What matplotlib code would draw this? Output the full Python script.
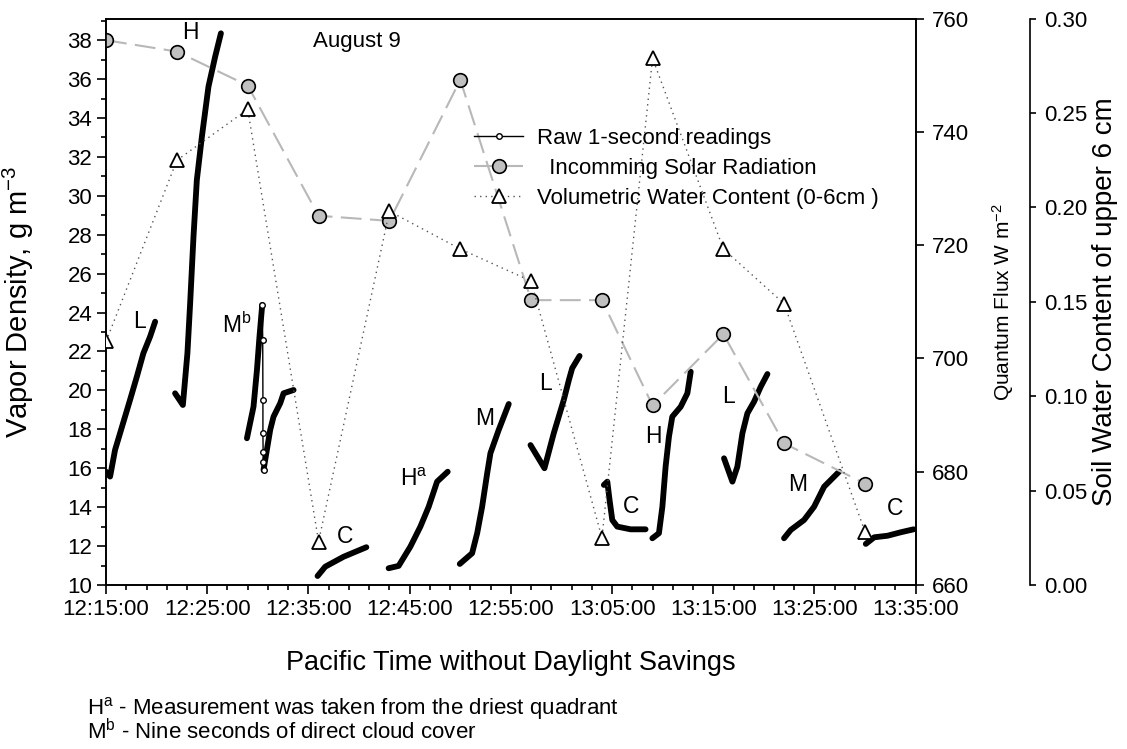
import matplotlib
matplotlib.use('Agg')
import matplotlib.pyplot as plt
from matplotlib.ticker import MultipleLocator, FormatStrFormatter, FuncFormatter

plt.rcParams['font.family'] = ['Liberation Sans', 'DejaVu Sans']
plt.rcParams['mathtext.fontset'] = 'custom'
plt.rcParams['mathtext.rm'] = 'Liberation Sans'
plt.rcParams['mathtext.it'] = 'Liberation Sans:italic'

# all times are minutes after 12:15:00
sample_min = [0, 7, 14, 21, 28, 35, 42, 49, 54, 61, 67, 75]
solar = [756.2, 754.2, 748.2, 725.2, 724.3, 749.2, 710.3, 710.3, 691.7, 704.3, 685.0, 677.9]
vwc = [0.129, 0.225, 0.252, 0.023, 0.198, 0.178, 0.161, 0.025, 0.279, 0.178, 0.149, 0.028]

# raw vapour density runs (one list per chamber reading)
raw_t = [
    [0.0, 0.40, 0.89, 2.37, 3.04, 3.69, 4.35, 4.85],
    [6.82, 7.59, 8.04, 8.31, 8.64, 8.97, 9.47, 10.12, 10.78, 11.35],
    [13.92, 14.57, 14.91, 15.16, 15.43],
    [15.56, 16.22, 16.55, 17.21, 17.54, 18.53],
    [20.90, 21.66, 23.47, 25.72],
    [27.92, 28.91, 30.07, 31.06, 31.88, 32.71, 33.76],
    [34.95, 36.17, 36.67, 37.16, 37.66, 37.98, 38.80, 39.79],
    [41.94, 43.32, 44.24, 45.23, 45.73, 46.06, 46.79],
    [49.19, 49.53, 49.75, 50.02, 50.51, 51.83, 53.31],
    [53.98, 54.63, 54.97, 55.29, 55.62, 55.95, 56.78, 57.44, 57.77],
    [61.06, 61.89, 62.38, 62.88, 63.37, 64.03, 64.69, 65.35],
    [66.99, 67.66, 68.97, 69.96, 70.95, 72.43],
    [75.07, 75.90, 77.22, 78.54, 79.79],
]
raw_v = [
    [15.82, 15.57, 16.94, 19.51, 20.70, 21.91, 22.76, 23.53],
    [19.85, 19.25, 21.91, 24.48, 27.90, 30.81, 33.04, 35.61, 37.15, 38.35],
    [17.54, 19.16, 21.05, 22.76, 24.39],
    [15.91, 17.97, 18.65, 19.34, 19.85, 20.02],
    [10.46, 10.94, 11.45, 11.94],
    [10.86, 10.98, 11.97, 13.00, 14.02, 15.31, 15.82],
    [11.08, 11.63, 12.66, 14.02, 15.74, 16.77, 17.97, 19.30],
    [17.19, 16.00, 17.80, 19.51, 20.53, 21.14, 21.77],
    [15.14, 15.31, 14.37, 13.34, 13.00, 12.86, 12.86],
    [12.40, 12.66, 14.02, 16.08, 17.62, 18.65, 19.16, 19.85, 20.96],
    [16.51, 15.31, 16.08, 17.80, 18.82, 19.42, 20.19, 20.84],
    [12.40, 12.83, 13.34, 14.02, 15.05, 15.82],
    [12.11, 12.45, 12.53, 12.71, 12.86],
]
# sparse readings while the cloud passed (M^b run)
cloud_t = [15.43, 15.48, 15.50, 15.50, 15.52, 15.54, 15.56]
cloud_v = [24.39, 22.59, 19.51, 17.80, 16.85, 16.34, 15.91]

run_labels = ['L', 'H', r'M$^\mathrm{b}$', 'C', r'H$^\mathrm{a}$', 'M', 'L', 'C', 'H', 'L', 'M', 'C']
label_pos = [(3.26, 23.53), (8.31, 38.37), (12.93, 23.36), (23.64, 12.48), (30.4, 15.40),
             (37.39, 18.57), (43.42, 20.36), (51.83, 14.02), (54.13, 17.62), (61.55, 19.68),
             (68.38, 15.14), (77.94, 13.91)]


def clock(m, pos):
    total = 12 * 60 + 15 + int(round(m))
    return f"{total // 60}:{total % 60:02d}:00"


fig = plt.figure(figsize=(11.27, 7.49), dpi=100)
ax = fig.add_axes([0.0941, 0.219, 0.7184, 0.756])
ax2 = ax.twinx()
ax3 = ax.twinx()

for t, v in zip(raw_t, raw_v):
    ax.plot(t, v, color='k', lw=4.2, solid_capstyle='round', solid_joinstyle='round', zorder=3)
raw_line, = ax.plot(cloud_t, cloud_v, color='k', lw=1, marker='o', ms=4, mfc='white',
                    mec='k', mew=1, zorder=3, label='Raw 1-second readings')

solar_line, = ax2.plot(sample_min, solar, color='#b8b8b8', lw=1.5, dashes=(10, 4),
                       marker='o', ms=9.8, mfc='#c0c0c0', mec='k', mew=1.2,
                       label='  Incomming Solar Radiation')
vwc_line, = ax3.plot(sample_min, vwc, color='#555555', lw=1, ls=(0, (1, 3)),
                     marker='^', ms=10.5, mfc='white', mec='k', mew=1.3,
                     label='Volumetric Water Content (0-6cm )')

for txt, (x, y) in zip(run_labels, label_pos):
    ax.text(x, y, txt, fontsize=16.5, ha='center', va='center')
ax.text(24.8, 37.92, 'August 9', fontsize=16, ha='center', va='center')

# left axis: vapour density
ax.set_xlim(0, 80)
ax.set_ylim(10, 39.1)
ax.xaxis.set_major_locator(MultipleLocator(10))
ax.xaxis.set_minor_locator(MultipleLocator(2))
ax.xaxis.set_major_formatter(FuncFormatter(clock))
ax.yaxis.set_major_locator(MultipleLocator(2))
ax.yaxis.set_minor_locator(MultipleLocator(1))
ax.tick_params(which='both', direction='out', width=1.2, labelsize=16)
ax.tick_params(which='major', length=6.5)
ax.tick_params(which='minor', length=3.6)
ax.set_xlabel('Pacific Time without Daylight Savings', fontsize=19.5, labelpad=22)
ax.set_ylabel('Vapor Density, g m$^{-3}$', fontsize=21, va='center')
ax.yaxis.set_label_coords(-0.108, 0.5)

# first right axis: quantum flux
ax2.set_ylim(660, 760)
ax2.yaxis.set_major_locator(MultipleLocator(20))
ax2.tick_params(direction='out', width=1.2, length=6, labelsize=16, pad=6)
ax2.set_ylabel('Quantum Flux W m$^{-2}$', fontsize=15, va='center')
ax2.yaxis.set_label_coords(1.108, 0.5)

# second right axis: soil water content
ax3.spines['right'].set_position(('axes', 1.1412))
for s in ['top', 'left', 'bottom']:
    ax3.spines[s].set_visible(False)
ax3.set_ylim(0, 0.30)
ax3.yaxis.set_major_locator(MultipleLocator(0.05))
ax3.yaxis.set_major_formatter(FormatStrFormatter('%.2f'))
ax3.tick_params(direction='out', width=1.2, length=4.5, labelsize=16, pad=6)
ax3.set_ylabel('Soil Water Content of upper 6 cm', fontsize=20, va='center')
ax3.yaxis.set_label_coords(1.2338, 0.5)

for a in (ax, ax2, ax3):
    for s in a.spines.values():
        s.set_linewidth(1.2)

ax3.legend([raw_line, solar_line, vwc_line],
           [raw_line.get_label(), solar_line.get_label(), vwc_line.get_label()],
           loc='upper left', bbox_to_anchor=(0.455, 0.807), frameon=False, fontsize=16,
           handlelength=2.2, handletextpad=0.6, labelspacing=0.4, numpoints=1,
           borderaxespad=0, borderpad=0)

fig.text(0.0772, 1 - 708 / 749, r'H$^\mathrm{a}$ - Measurement was taken from the driest quadrant',
         fontsize=16, va='center')
fig.text(0.0772, 1 - 732 / 749, r'M$^\mathrm{b}$ - Nine seconds of direct cloud cover',
         fontsize=16, va='center')

fig.savefig('out.png', dpi=100)
